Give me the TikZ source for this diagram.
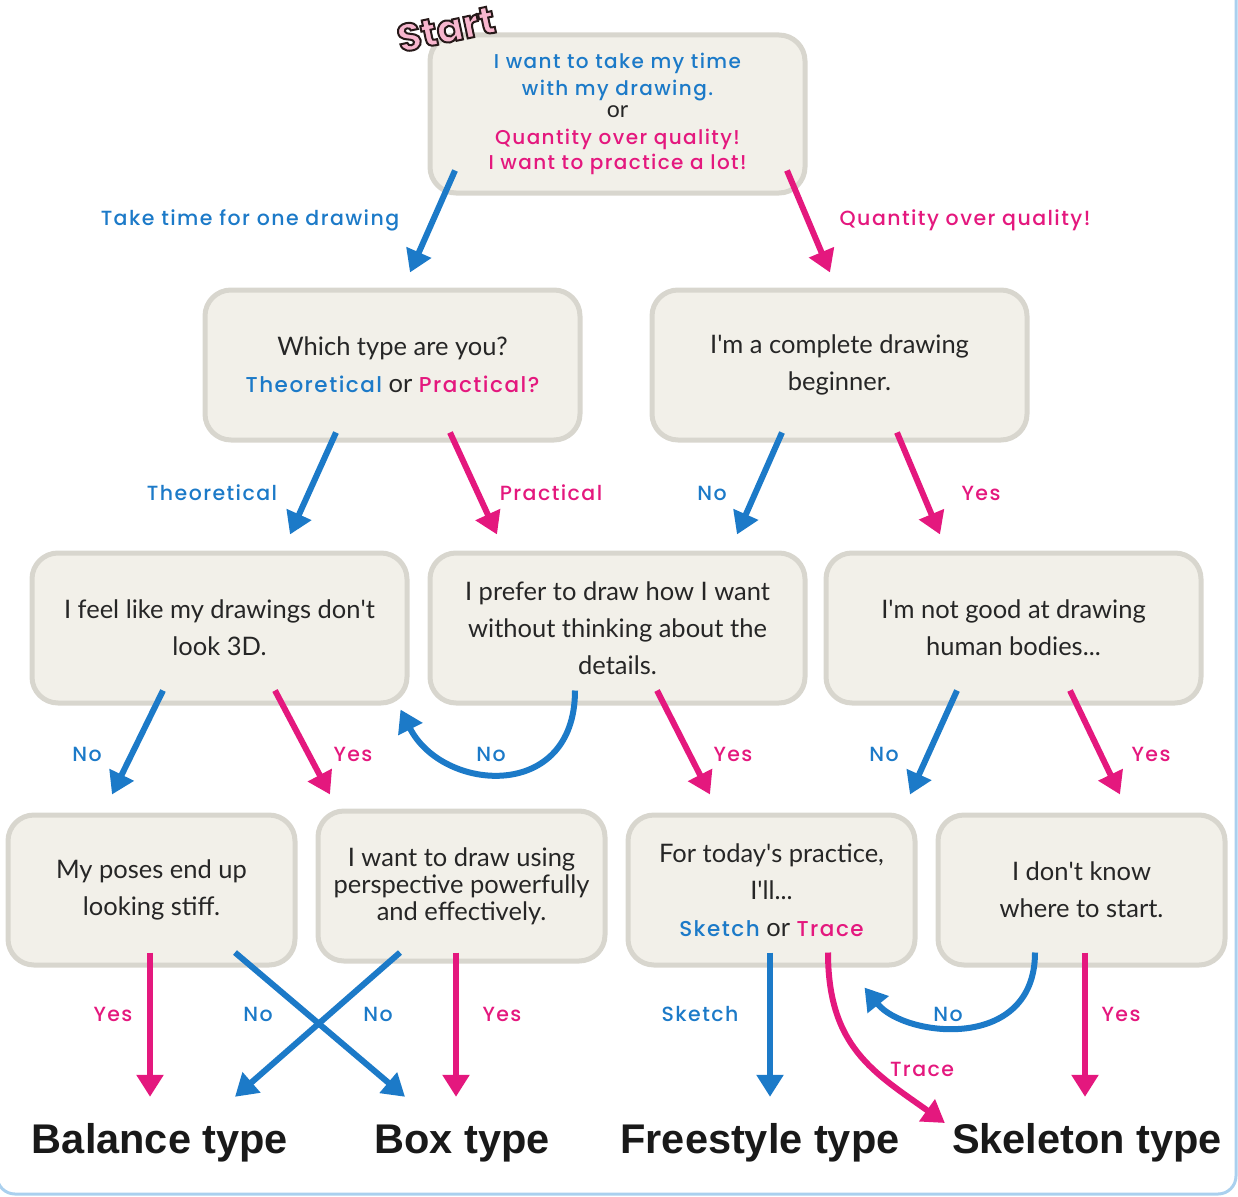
\documentclass[tikz,border=0pt]{standalone}
\usepackage{fontspec}
\setmainfont{Lato}
\newfontfamily\lblfont[LetterSpace=7,UprightFont={* Medium}]{Poppins}
\newfontfamily\startfont{Poppins}
\newfontfamily\outfont{Liberation Sans}
\usetikzlibrary{arrows.meta,calc}
\definecolor{flowblue}{RGB}{28,122,200}
\definecolor{flowpink}{RGB}{228,24,126}
\definecolor{boxfill}{RGB}{242,240,233}
\definecolor{boxline}{RGB}{216,214,206}
\definecolor{frameblue}{RGB}{170,208,238}
\definecolor{startpink}{RGB}{248,182,206}
\newcommand{\blu}[1]{\textcolor{flowblue}{#1}}
\newcommand{\pnk}[1]{\textcolor{flowpink}{#1}}
\newcommand{\outline}[1]{\special{pdf:literal direct 0.15 0.1 0.1 RG 2 w 2 Tr}#1\special{pdf:literal direct 0 Tr}}
\newcommand{\ap}{\textquotesingle}

\begin{document}
\begin{tikzpicture}[
  x=1pt, y=-1pt,
  every node/.style={inner sep=0pt},
  qbox/.style={draw=boxline, fill=boxfill, line width=5pt, rounded corners=26pt,
               minimum width=375pt, minimum height=150pt, align=center,
               font=\fontsize{25.5}{37}\selectfont, text=black!85},
  sbox/.style={qbox, minimum width=287pt},
  lbl/.style={font=\lblfont\fontsize{20.5}{27}\selectfont},
  blbl/.style={lbl, text=flowblue},
  plbl/.style={lbl, text=flowpink},
  outc/.style={font=\outfont\bfseries\fontsize{41.5}{44}\selectfont,
               text height=28pt, text depth=8pt, anchor=base, text=black!90},
  barr/.style={draw=flowblue, line width=6pt, -{Triangle[width=26pt,length=22pt]}},
  parr/.style={barr, draw=flowpink}
]
\useasboundingbox (0,0) rectangle (1238,1196);
\draw[frameblue, line width=3pt, rounded corners=18pt] (-3,-20) rectangle (1236,1194);
% question boxes
\node[qbox, minimum height=158pt, font=\lblfont\fontsize{20}{27}\selectfont] (top) at (617.5,114)
  {\blu{I want to take my time}\\ \blu{with my drawing.}\\[-5pt]
   {\normalfont\fontsize{23}{27}\selectfont or}\\ \pnk{Quantity over quality!}\\[-2pt]
   \pnk{I want to practice a lot!}};
\node[font=\startfont\bfseries\fontsize{39}{39}\selectfont, text=startpink, rotate=12] (start) at (446,29)
  {\outline{Start}};
\node[qbox] (b2l) at (392.5,365)
  {Which type are you?\\ {\lblfont\fontsize{21.5}{37}\selectfont\blu{Theoretical}} or {\lblfont\fontsize{21.5}{37}\selectfont\pnk{Practical?}}};
\node[qbox] (b2r) at (839.5,365) {I\ap m a complete drawing\\ beginner.};
\node[qbox] (b3a) at (219.5,628) {I feel like my drawings don\ap t\\ look 3D.};
\node[qbox] (b3b) at (617.5,628) {I prefer to draw how I want\\ without thinking about the\\ details.};
\node[qbox] (b3c) at (1013.5,628) {I\ap m not good at drawing\\ human bodies...};
\node[sbox] (b4a) at (151.5,890) {My poses end up\\ looking stiff.};
\node[sbox, font=\fontsize{25.5}{27}\selectfont] (b4b) at (461.5,886)
  {I want to draw using\\ perspective powerfully\\ and effectively.};
\node[sbox] (b4c) at (771.5,890)
  {For today\ap s practice,\\ I\ap ll...\\ {\lblfont\fontsize{21.5}{37}\selectfont\blu{Sketch}} or {\lblfont\fontsize{21.5}{37}\selectfont\pnk{Trace}}};
\node[sbox] (b4d) at (1081.5,890) {I don\ap t know\\ where to start.};
% results
\node[outc] (bal)  at (160,1153)  {Balance type};
\node[outc] (boxt) at (462,1153)  {Box type};
\node[outc] (free) at (760,1153)  {Freestyle type};
\node[outc] (skel) at (1087,1153) {Skeleton type};
% arrows
\draw[barr] ($(top.south)+(-162.5,-25)$) -- ($(b2l.north)+(17.5,-15)$);
\draw[parr] ($(top.south)+(169.5,-25)$) -- ($(b2r.north)+(-9.5,-15)$);
\draw[barr] ($(b2l.south)+(-56.5,-10)$) -- ($(b3a.north)+(70.5,-16)$);
\draw[parr] ($(b2l.south)+(57.5,-10)$) -- ($(b3b.north)+(-120.5,-16)$);
\draw[barr] ($(b2r.south)+(-57.5,-10)$) -- ($(b3b.north)+(119.5,-16)$);
\draw[parr] ($(b2r.south)+(57.5,-10)$) -- ($(b3c.north)+(-73.5,-16)$);
\draw[barr] ($(b3a.south)+(-56.5,-15)$) -- ($(b4a.north)+(-39.5,-18)$);
\draw[parr] ($(b3a.south)+(55.5,-15)$) -- ($(b4b.north)+(-131.5,-14)$);
\draw[barr] ($(b3b.south)+(-42.5,-15)$) .. controls +(0,112) and +(42,83) .. ($(b3a.south east)+(-9,4)$);
\draw[parr] ($(b3b.south)+(39.5,-15)$) -- ($(b4c.north)+(-61.5,-18)$);
\draw[barr] ($(b3c.south)+(-56.5,-15)$) -- ($(b4d.north)+(-171.5,-18)$);
\draw[parr] ($(b3c.south)+(56.5,-15)$) -- ($(b4d.north)+(38.5,-18)$);
\draw[parr] ($(b4a.south)+(-1.5,-15)$) -- ($(bal.north)+(-10,-28)$);
\draw[barr] ($(b4a.south)+(83.5,-15)$) -- ($(boxt.north)+(-57,-28)$);
\draw[barr] ($(b4b.south)+(-61.5,-11)$) -- ($(bal.north)+(75,-28)$);
\draw[parr] ($(b4b.south)+(-5.5,-11)$) -- ($(boxt.north)+(-6,-28)$);
\draw[barr] ($(b4c.south)+(-1.5,-15)$) -- ($(free.north)+(10,-28)$);
\draw[parr] ($(b4c.south)+(56.5,-15)$) .. controls +(0,95) and +(-70,-50) .. ($(skel.west)+(-7,-20)$);
\draw[barr] ($(b4d.south)+(-46.5,-15)$) .. controls +(0,100) and +(40,50) .. ($(b4c.south east)+(-53,20)$);
\draw[parr] ($(b4d.south)+(3.5,-15)$) -- ($(skel.north)+(-2,-28)$);
% labels
\node[blbl] (lTake)  at (250,220)  {Take time for one drawing};
\node[plbl] (lQuant) at (965,220)  {Quantity over quality!};
\node[blbl] (lTheo)  at (212,493)  {Theoretical};
\node[plbl] (lPrac)  at (551,493)  {Practical};
\node[blbl] (lNoA)   at (712,493)  {No};
\node[plbl] (lYesA)  at (981,493)  {Yes};
\node[blbl] (lNoB)   at (87,754)   {No};
\node[plbl] (lYesB)  at (353,754)  {Yes};
\node[blbl] (lNoC)   at (491,754)  {No};
\node[plbl] (lYesC)  at (733,754)  {Yes};
\node[blbl] (lNoD)   at (884,754)  {No};
\node[plbl] (lYesD)  at (1151,754) {Yes};
\node[plbl] (lYesE)  at (113,1014) {Yes};
\node[blbl] (lNoE)   at (258,1014) {No};
\node[blbl] (lNoF)   at (378,1014) {No};
\node[plbl] (lYesF)  at (502,1014) {Yes};
\node[blbl] (lSketch) at (700,1014) {Sketch};
\node[blbl] (lNoG)   at (948,1014) {No};
\node[plbl] (lYesG)  at (1121,1014) {Yes};
\node[plbl] (lTrace) at (922,1069) {Trace};
\end{tikzpicture}
\end{document}
